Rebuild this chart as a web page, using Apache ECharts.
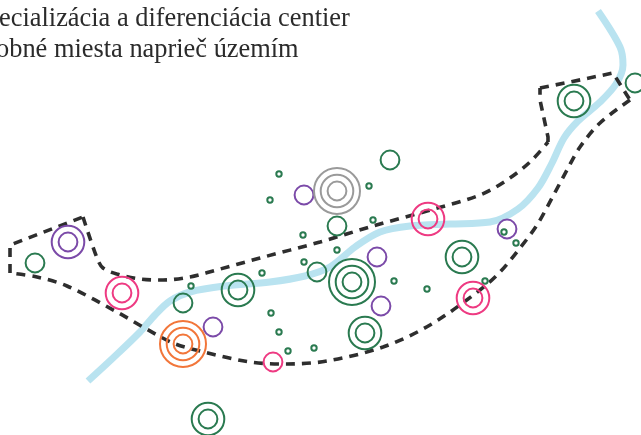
<!DOCTYPE html>
<html><head><meta charset="utf-8">
<style>html,body{margin:0;padding:0;background:#fff;overflow:hidden}#c{width:641px;height:435px}</style>
<script src="https://cdn.jsdelivr.net/npm/echarts@6/dist/echarts.min.js"></script>
</head><body><div id="c"></div>
<script>
// map coordinates: [x, y]
const river = [[88,381],[113,358],[140,332],[155,315],[170,301],[190,292],[225,286],[270,282],[305,276],[330,267],[355,247],[380,232],[410,226],[450,224],[490,222],[518,209],[538,188],[552,163],[564,138],[578,121],[600,102],[616,84],[623,65],[620,47],[598,11]];
const borderLeft = [[10,273],[10,245],[83,217]];
const borderTop = [[83,217],[97,258],[103,268],[117,274],[140,279],[163,280],[190,277],[213,271],[260,258],[320,242],[373,226],[427,211],[480,195],[507,180],[530,162],[548,142]];
const borderNotch = [[548,142],[548,137],[540,100],[540,88]];
const borderRight = [[540,88],[570,82],[613,73],[630,100]];
const borderBottom = [[630,100],[600,123],[580,147],[567,170],[552,198],[537,225],[520,248],[500,272],[480,290],[430,325],[383,347],[327,361],[287,364],[250,362],[200,351],[173,343],[143,327],[117,312],[67,286],[37,277],[10,273]];
// places: [x, y, number of rings] (0 = tiny place)
const greenPlaces = [[35,263,1],[183,303,1],[191,286,0],[208,419,2],[238,290,2],[279,174,0],[270,200,0],[390,160,1],[369,186,0],[337,226,1],[373,220,0],[303,235,0],[337,250,0],[304,262,0],[262,273,0],[317,272,1],[352,282,3],[394,281,0],[427,289,0],[271,313,0],[279,332,0],[365,333,2],[288,351,0],[314,348,0],[574,101,2],[635,83,1],[504,232,0],[516,243,0],[462,257,2],[485,281,0]];
const purplePlaces = [[68,242,2],[213,327,1],[304,195,1],[377,257,1],[381,306,1],[507,229,1]];
const pinkPlaces = [[122,293,2],[273,362,1],[428,219,2],[473,298,2]];
const orangePlaces = [[183,344,3]];
const greyPlaces = [[337,191,3]];
const headingLines = ['ecializácia a diferenciácia centier','obné miesta naprieč územím'];

const ringRadius = [2.7, 9.4, 16.3, 23];
function rings(places){
  const out = [];
  places.forEach(p => {
    if (p[2] === 0) out.push([p[0],p[1],0]);
    for (let i=1;i<=p[2];i++) out.push([p[0],p[1],i]);
  });
  return out;
}
function ringSeries(places,color){
  return {type:'scatter',data:rings(places),symbol:'circle',z:3,silent:true,
    symbolSize:v=>ringRadius[v[2]]*2,
    itemStyle:{color:'rgba(0,0,0,0)',borderColor:color,borderWidth:2,opacity:1}};
}
function borderSeries(pts,smooth){
  return {type:'line',data:pts,smooth:smooth,symbol:'none',z:2,silent:true,
    lineStyle:{color:'#2e2e2e',width:3.6,type:[9,7],cap:'butt'}};
}
const chart = echarts.init(document.getElementById('c'),null,{renderer:'canvas'});
const headingStyle = {fontFamily:'Liberation Serif',fontSize:26.4,fontWeight:'normal',color:'#2b2b2b'};
chart.setOption({
  animation:false,
  backgroundColor:'#fff',
  title:[
    {text:headingLines[0],left:-1,top:6,padding:0,textStyle:headingStyle},
    {text:headingLines[1],left:-4,top:37,padding:0,textStyle:headingStyle}
  ],
  grid:{left:0,right:0,top:0,bottom:0},
  xAxis:{type:'value',min:0,max:641,show:false},
  yAxis:{type:'value',min:0,max:435,inverse:true,show:false},
  series:[
    {type:'line',data:river,smooth:0.33,symbol:'none',z:1,silent:true,lineStyle:{color:'#b9e3f0',width:7,cap:'butt'}},
    borderSeries(borderLeft,false),
    borderSeries(borderTop,0.33),
    borderSeries(borderNotch,false),
    borderSeries(borderRight,false),
    borderSeries(borderBottom,0.33),
    ringSeries(greenPlaces,'#2a7a50'),
    ringSeries(purplePlaces,'#7b4aa8'),
    ringSeries(pinkPlaces,'#ee3a82'),
    ringSeries(orangePlaces,'#f2763a'),
    ringSeries(greyPlaces,'#9a9a9a')
  ]
});
</script></body></html>
